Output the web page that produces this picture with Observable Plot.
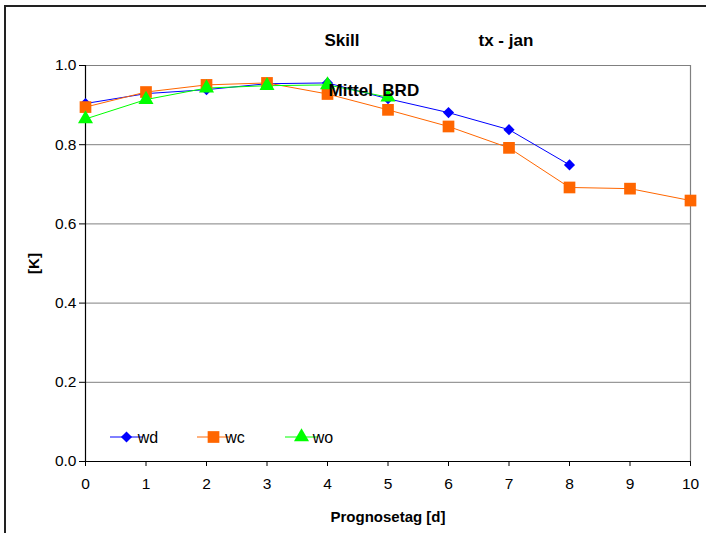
<!DOCTYPE html>
<html>
<head>
<meta charset="utf-8">
<script src="https://cdn.jsdelivr.net/npm/d3@7"></script>
<script src="https://cdn.jsdelivr.net/npm/@observablehq/plot@0.6"></script>
<style>
  html, body { margin: 0; padding: 0; background: #fff; }
  #wrap { position: relative; width: 706px; height: 533px; overflow: hidden; }
  #frame { position: absolute; left: 4px; top: 5px; width: 720px; height: 560px;
           border-left: 2px solid #222; border-top: 2px solid #222; pointer-events: none; }
  svg { font-family: "Liberation Sans", Arial, sans-serif; }
  g[aria-label="y-axis tick label"] text, g[aria-label="x-axis tick label"] text { font-size: 15.5px; }
</style>
</head>
<body>
<div id="wrap"><div id="frame"></div></div>
<script>
const days = [0, 1, 2, 3, 4, 5, 6, 7, 8, 9, 10];
const wd = [0.904, 0.929, 0.939, 0.954, 0.956, 0.916, 0.881, 0.838, 0.749];
const wc = [0.895, 0.933, 0.951, 0.956, 0.928, 0.888, 0.846, 0.792, 0.692, 0.689, 0.659];
const wo = [0.865, 0.914, 0.943, 0.949, 0.951, 0.920];
const yTicks = [0, 0.2, 0.4, 0.6, 0.8, 1.0];
const seriesNames = ["wd", "wc", "wo"];
const seriesColors = ["#0000FF", "#FF6600", "#00FF00"];
const seriesSymbols = ["diamond2", "square", "triangle"];
const seriesR = [5, 6.6, 5.6];

const allSeries = [wd, wc, wo];
const data = [];
allSeries.forEach((vals, i) => vals.forEach((v, j) => data.push({s: seriesNames[i], x: days[j], y: v})));

const marks = [
  Plot.gridY(yTicks.filter(d => d > 0), {stroke: "#808080", strokeOpacity: 1, strokeWidth: 1}),
  Plot.ruleX([10], {stroke: "#808080", strokeWidth: 1.2}),
  Plot.axisY(yTicks, {tickFormat: d3.format(".1f"), tickSize: 6, tickPadding: 3, fontSize: 15.5, label: null, stroke: "#000"}),
  Plot.axisX(days, {tickFormat: d3.format("d"), tickSize: 5, tickPadding: 11, fontSize: 15.5, label: null, stroke: "#000"}),
  Plot.ruleX([0], {stroke: "#000", strokeWidth: 1.2}),
  Plot.ruleY([0], {stroke: "#000", strokeWidth: 1.2})
];
seriesNames.forEach((name, i) => {
  const d = data.filter(r => r.s === name);
  marks.push(Plot.line(d, {x: "x", y: "y", stroke: seriesColors[i], strokeWidth: 1}));
});
seriesNames.forEach((name, i) => {
  const d = data.filter(r => r.s === name);
  marks.push(Plot.dot(d, {x: "x", y: "y", symbol: () => seriesSymbols[i], fill: seriesColors[i], stroke: "none", r: seriesR[i]}));
});
// annotations
const ann = {fontWeight: "bold", fill: "#000", lineAnchor: "middle"};
marks.push(Plot.text(["Skill"], {...ann, frameAnchor: "top-left", dx: 239, dy: -25, fontSize: 17, textAnchor: "start"}));
marks.push(Plot.text(["tx - jan"], {...ann, frameAnchor: "top-left", dx: 393, dy: -25, fontSize: 17, textAnchor: "start"}));
marks.push(Plot.text(["Mittel\u00a0 BRD"], {...ann, frameAnchor: "top-left", dx: 243, dy: 25, fontSize: 17, textAnchor: "start"}));
marks.push(Plot.text(["Prognosetag [d]"], {...ann, frameAnchor: "bottom", dy: 56, fontSize: 15, textAnchor: "middle"}));
marks.push(Plot.text(["[K]"], {...ann, frameAnchor: "left", dx: -51, rotate: -90, fontSize: 15, textAnchor: "middle"}));

const chart = Plot.plot({
  width: 706,
  height: 533,
  marginLeft: 85,
  marginRight: 16,
  marginTop: 65,
  marginBottom: 72,
  x: {domain: [0, 10], axis: null},
  y: {domain: [0, 1], axis: null},
  style: {fontFamily: "Liberation Sans, Arial, sans-serif", background: "transparent", color: "#000"},
  marks
});

// legend drawn inside plot area
const svg = d3.select(chart);
const lg = svg.append("g").attr("transform", "translate(0,437)");
const legendX = [110, 197, 285];
const symMap = {diamond2: d3.symbolDiamond2, square: d3.symbolSquare, triangle: d3.symbolTriangle};
seriesNames.forEach((name, i) => {
  const g = lg.append("g").attr("transform", `translate(${legendX[i]},0)`);
  g.append("line").attr("x1", 0).attr("x2", 33).attr("y1", 0).attr("y2", 0).attr("stroke", seriesColors[i]).attr("stroke-width", 1);
  g.append("path").attr("transform", "translate(16.5,0)")
    .attr("d", d3.symbol(symMap[seriesSymbols[i]], Math.PI * seriesR[i] * seriesR[i])())
    .attr("fill", seriesColors[i]);
  g.append("text").attr("x", 38).attr("y", 5.5).attr("font-size", 16).attr("fill", "#000").text(name);
});

document.getElementById("wrap").appendChild(chart);
</script>
</body>
</html>
